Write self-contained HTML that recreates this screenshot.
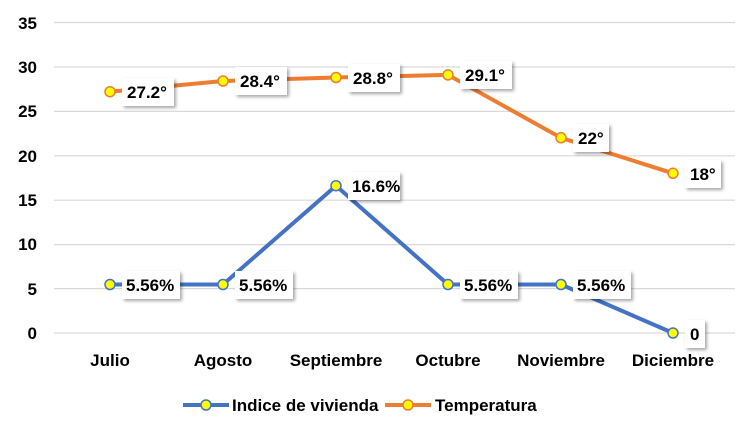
<!DOCTYPE html>
<html><head><style>
body{margin:0;background:#fff}
svg text{font-family:"Liberation Sans",sans-serif;font-weight:bold;fill:#000}
</style></head><body>
<svg width="752" height="437" xmlns="http://www.w3.org/2000/svg">
<defs><filter id="sh" x="-20%" y="-20%" width="150%" height="160%"><feDropShadow dx="2" dy="2" stdDeviation="1.5" flood-color="#000" flood-opacity="0.35"/></filter></defs>
<g stroke="#d9d9d9" stroke-width="1.2">
<line x1="54" x2="735" y1="22.5" y2="22.5"/><line x1="54" x2="735" y1="67" y2="67"/><line x1="54" x2="735" y1="111.4" y2="111.4"/><line x1="54" x2="735" y1="155.8" y2="155.8"/><line x1="54" x2="735" y1="200.2" y2="200.2"/><line x1="54" x2="735" y1="244.6" y2="244.6"/><line x1="54" x2="735" y1="288.6" y2="288.6"/><line x1="54" x2="735" y1="333" y2="333"/>
</g>
<g font-size="17" text-anchor="end">
<text x="37" y="29">35</text><text x="37" y="73">30</text><text x="37" y="117">25</text><text x="37" y="162">20</text><text x="37" y="206">15</text><text x="37" y="250">10</text><text x="37" y="295">5</text><text x="37" y="339">0</text>
</g>
<g font-size="17" text-anchor="middle">
<text x="110" y="366">Julio</text><text x="223" y="366">Agosto</text><text x="336" y="366">Septiembre</text><text x="448" y="366">Octubre</text><text x="561" y="366">Noviembre</text><text x="673" y="366">Diciembre</text>
</g>
<polyline fill="none" stroke="#ed7d31" stroke-width="4" stroke-linejoin="round" points="110,91.7 223,81 336,77.5 448,74.9 561,137.8 673,173.3"/>
<polyline fill="none" stroke="#4472c4" stroke-width="4" stroke-linejoin="round" points="110,284.5 223,284.5 336,185.7 448,284.5 561,284.5 673,333"/>
<g fill="#ffff00" stroke="#ed7d31" stroke-width="1.5">
<circle cx="110" cy="91.7" r="5"/><circle cx="223" cy="81" r="5"/><circle cx="336" cy="77.5" r="5"/><circle cx="448" cy="74.9" r="5"/><circle cx="561" cy="137.8" r="5"/><circle cx="673" cy="173.3" r="5"/>
</g>
<g fill="#ffff00" stroke="#4472c4" stroke-width="1.5">
<circle cx="110" cy="284.5" r="5"/><circle cx="223" cy="284.5" r="5"/><circle cx="336" cy="185.7" r="5"/><circle cx="448" cy="284.5" r="5"/><circle cx="561" cy="284.5" r="5"/><circle cx="673" cy="333" r="5"/>
</g>
<g fill="#fff" filter="url(#sh)">
<rect x="122" y="78" width="52" height="28"/><rect x="235" y="67" width="52" height="28"/><rect x="348" y="64" width="52" height="28"/><rect x="460" y="61" width="52" height="28"/><rect x="573" y="124" width="36" height="28"/><rect x="685" y="160" width="36" height="28"/>
<rect x="122" y="271" width="58" height="28"/><rect x="235" y="271" width="58" height="28"/><rect x="348" y="172" width="52" height="28"/><rect x="460" y="271" width="58" height="28"/><rect x="573" y="271" width="58" height="28"/><rect x="685" y="320" width="20" height="28"/>
</g>
<g font-size="17">
<text x="127" y="98">27.2°</text><text x="240" y="87">28.4°</text><text x="353" y="84">28.8°</text><text x="465" y="81">29.1°</text><text x="578" y="144">22°</text><text x="690" y="180">18°</text>
<text x="126" y="291">5.56%</text><text x="239" y="291">5.56%</text><text x="352" y="192">16.6%</text><text x="464" y="291">5.56%</text><text x="577" y="291">5.56%</text><text x="690" y="340">0</text>
</g>
<line x1="183" x2="229" y1="405" y2="405" stroke="#4472c4" stroke-width="4"/>
<circle cx="206" cy="405" r="5" fill="#ffff00" stroke="#4472c4" stroke-width="1.5"/>
<text x="232" y="411" font-size="17">Indice de vivienda</text>
<line x1="385" x2="431" y1="405" y2="405" stroke="#ed7d31" stroke-width="4"/>
<circle cx="408" cy="405" r="5" fill="#ffff00" stroke="#ed7d31" stroke-width="1.5"/>
<text x="435" y="411" font-size="17">Temperatura</text>
</svg>
</body></html>
